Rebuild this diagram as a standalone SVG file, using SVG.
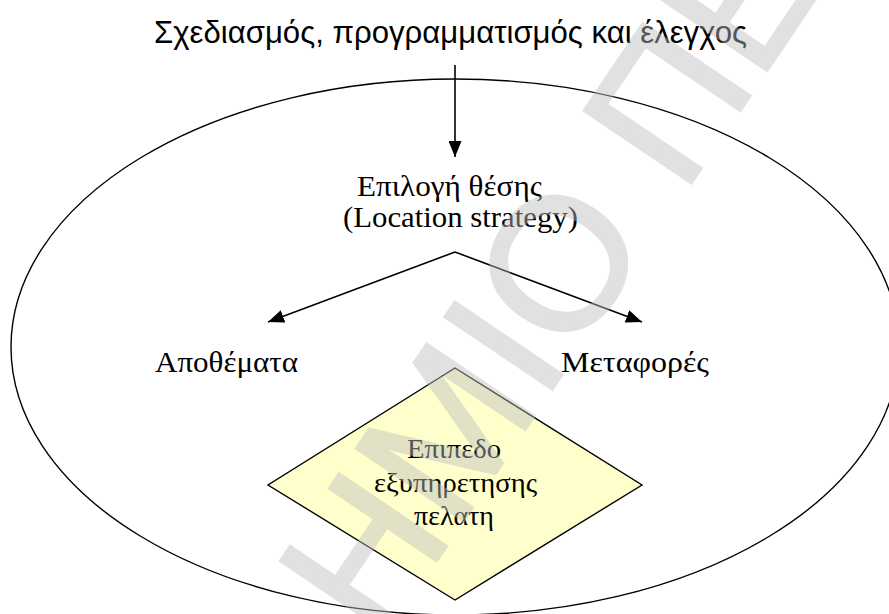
<svg xmlns="http://www.w3.org/2000/svg" width="889" height="614" viewBox="0 0 889 614">
  <style>
    .serif { font-family: "Liberation Serif", "Times New Roman", serif; fill: #000; }
    .sans { font-family: "Liberation Sans", Arial, sans-serif; fill: #000; }
    .line { stroke: #000; stroke-width: 1.6; fill: none; }
    .wm { font-family: "Liberation Sans", Arial, sans-serif; fill: #bdbdbd; stroke: #bdbdbd; stroke-width: 3; }
  </style>
  <defs>
    <marker id="arrow" markerUnits="userSpaceOnUse" markerWidth="17" markerHeight="13" refX="16" refY="6.5" orient="auto" viewBox="0 0 17 13">
      <path d="M0,0 L16,6.5 L0,13 z" fill="#000"/>
    </marker>
  </defs>
  <rect x="0" y="0" width="889" height="614" fill="#fff"/>

  <g id="title">
    <text class="sans" x="154" y="43" font-size="31" textLength="593" lengthAdjust="spacingAndGlyphs">Σχεδιασμός, προγραμματισμός και έλεγχος</text>
  </g>

  <g id="scope">
    <ellipse cx="455" cy="347" rx="444" ry="268" fill="none" stroke="#000" stroke-width="1.4"/>
  </g>

  <g id="location">
    <text class="serif" x="357" y="196" font-size="29" textLength="185" lengthAdjust="spacingAndGlyphs">Επιλογή θέσης</text>
    <text class="serif" x="343" y="227" font-size="29" textLength="235" lengthAdjust="spacingAndGlyphs">(Location strategy)</text>
  </g>

  <g id="inventory">
    <text class="serif" x="155" y="372" font-size="30" textLength="143" lengthAdjust="spacingAndGlyphs">Αποθέματα</text>
  </g>

  <g id="transport">
    <text class="serif" x="561" y="372" font-size="30" textLength="148" lengthAdjust="spacingAndGlyphs">Μεταφορές</text>
  </g>

  <g id="service">
    <polygon points="455,368 642,485 455,600 268,485" fill="#ffffcc" stroke="#000" stroke-width="1.4"/>
    <text class="serif" x="407" y="458" font-size="28" textLength="94" lengthAdjust="spacingAndGlyphs">Επιπεδο</text>
    <text class="serif" x="374" y="492" font-size="28" textLength="163" lengthAdjust="spacingAndGlyphs">εξυπηρετησης</text>
    <text class="serif" x="414" y="525" font-size="28" textLength="80" lengthAdjust="spacingAndGlyphs">πελατη</text>
  </g>

  <g id="connectors">
    <line class="line" x1="455" y1="65" x2="455" y2="157" marker-end="url(#arrow)"/>
    <line class="line" x1="455" y1="252" x2="268" y2="322" marker-end="url(#arrow)"/>
    <line class="line" x1="455" y1="252" x2="642" y2="322" marker-end="url(#arrow)"/>
  </g>

  <g id="watermark" opacity="0.45">
    <text class="wm" transform="translate(379,646) rotate(-56)" font-size="188">ΗΜΙΟ ΠΕ</text>
  </g>
</svg>
